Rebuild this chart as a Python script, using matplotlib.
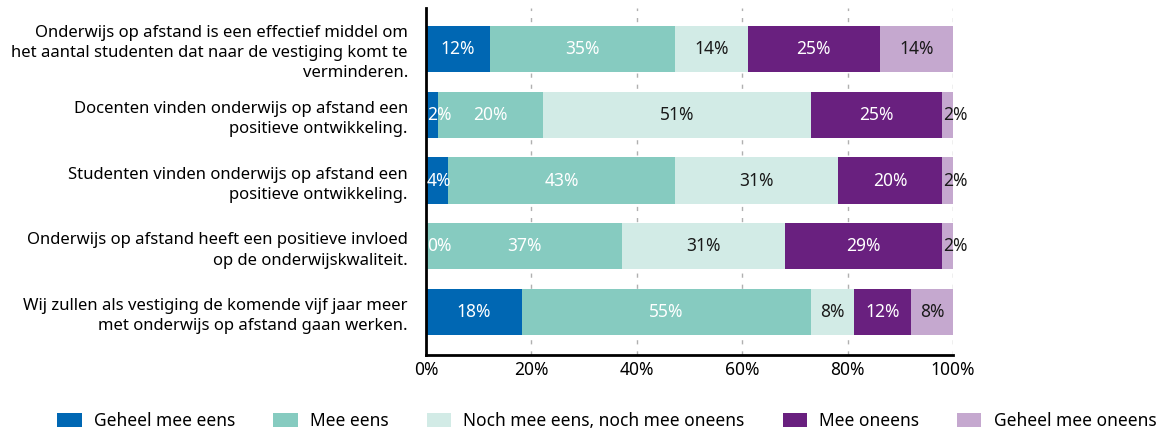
import matplotlib
matplotlib.use("Agg")
import matplotlib.pyplot as plt
import numpy as np

plt.rcParams["font.family"] = ["Noto Sans", "DejaVu Sans"]

statements = [
    "Onderwijs op afstand is een effectief middel om\nhet aantal studenten dat naar de vestiging komt te\nverminderen.",
    "Docenten vinden onderwijs op afstand een\npositieve ontwikkeling.",
    "Studenten vinden onderwijs op afstand een\npositieve ontwikkeling.",
    "Onderwijs op afstand heeft een positieve invloed\nop de onderwijskwaliteit.",
    "Wij zullen als vestiging de komende vijf jaar meer\nmet onderwijs op afstand gaan werken.",
]
answers = ["Geheel mee eens", "Mee eens", "Noch mee eens, noch mee oneens",
           "Mee oneens", "Geheel mee oneens"]

# share per answer (bar widths)
geheel_eens = [12.1, 2.3, 4.2, 0.0, 18.2]
mee_eens = [35.1, 19.9, 43.0, 37.2, 54.8]
neutraal = [13.9, 50.9, 31.0, 30.9, 8.2]
mee_oneens = [25.0, 24.9, 19.7, 29.8, 10.8]
geheel_oneens = [13.9, 2.1, 2.1, 2.1, 8.0]

# printed labels
labels = [
    [12, 2, 4, 0, 18],
    [35, 20, 43, 37, 55],
    [14, 51, 31, 31, 8],
    [25, 25, 20, 29, 12],
    [14, 2, 2, 2, 8],
]

colors = ["#0067b3", "#86cbc0", "#d2ebe6", "#69207f", "#c5a8cf"]
text_colors = ["white", "white", "#1a1a1a", "white", "#1a1a1a"]

series = [geheel_eens, mee_eens, neutraal, mee_oneens, geheel_oneens]

fig = plt.figure(figsize=(11.67, 4.34), dpi=100)
ax = fig.add_axes([0.365, 0.182, 0.4516, 0.7996])

y = np.arange(len(statements))
left = np.zeros(len(statements))
for vals, lab, col, tcol, name in zip(series, labels, colors, text_colors, answers):
    vals = np.array(vals)
    ax.barh(y, vals, left=left, height=0.7, color=col, label=name, zorder=2)
    for i, (v, l) in enumerate(zip(vals, lab)):
        if v < 5:
            ax.text(left[i] + 0.2, y[i], f"{l}%", ha="left", va="center",
                    color=tcol, fontsize=12.5, zorder=3)
        else:
            ax.text(left[i] + v / 2, y[i], f"{l}%", ha="center", va="center",
                    color=tcol, fontsize=12.5, zorder=3)
    left += vals

ax.set_xlim(0, 100)
ax.set_ylim(4.65, -0.62)
ax.set_yticks(y)
ax.set_yticklabels(statements, fontsize=12.0, linespacing=1.35)
ax.set_xticks([0, 20, 40, 60, 80, 100])
ax.set_xticklabels(["0%", "20%", "40%", "60%", "80%", "100%"], fontsize=12.5)
ax.tick_params(axis="x", length=0, pad=4)
ax.tick_params(axis="y", length=0, pad=13)
ax.xaxis.grid(True, color="#b0b0b0", linestyle=(0, (3, 5)), linewidth=1, zorder=0)
ax.set_axisbelow(True)
for s in ["top", "right"]:
    ax.spines[s].set_visible(False)
for s in ["left", "bottom"]:
    ax.spines[s].set_linewidth(2)
    ax.spines[s].set_color("black")

fig.legend(loc="center", bbox_to_anchor=(0.52, 0.03), ncol=5, frameon=False,
           fontsize=12.5, handlelength=1.4, handleheight=0.9, handletextpad=0.7,
           columnspacing=2.2)

fig.savefig("out.png", dpi=100)
